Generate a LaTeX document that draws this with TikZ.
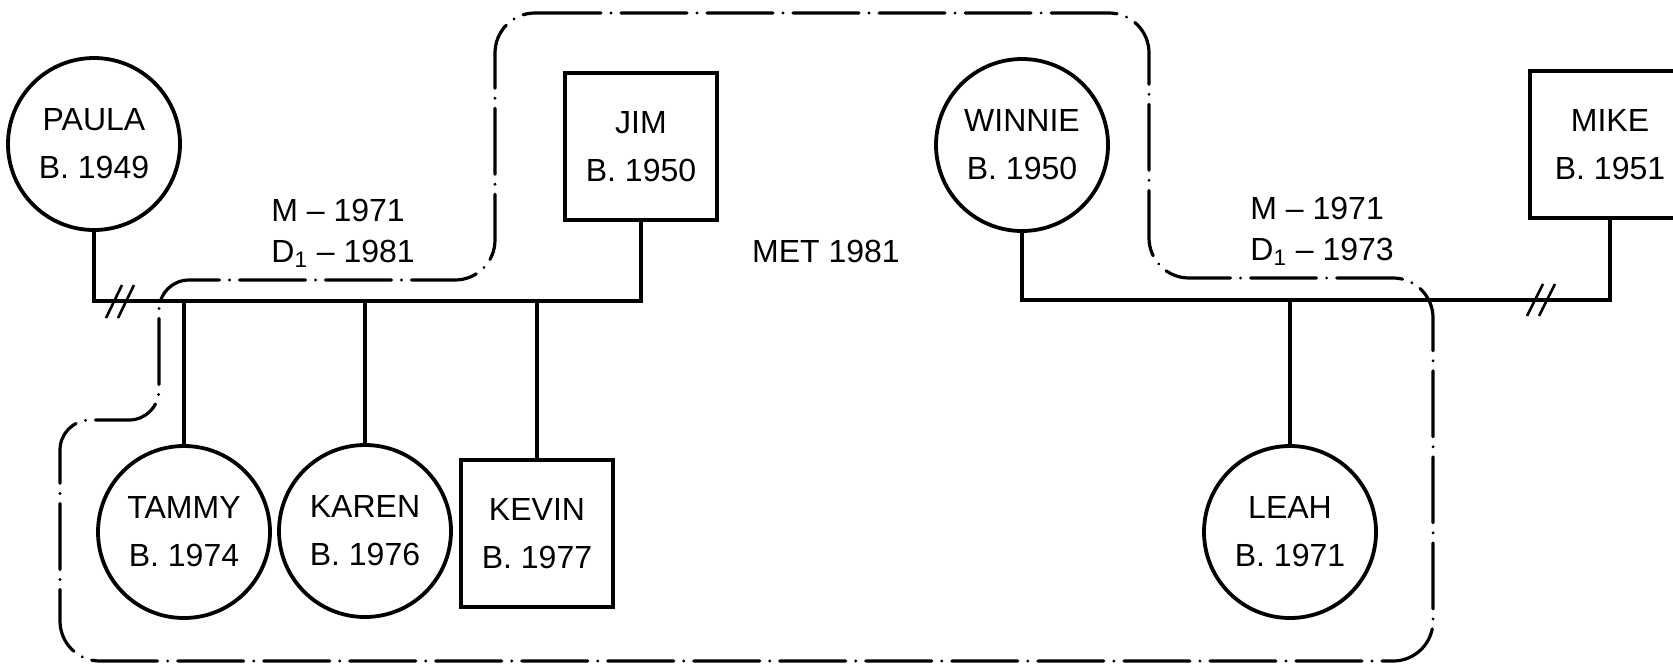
\documentclass[tikz,border=0pt]{standalone}
\usepackage{fontspec}
\setmainfont{Liberation Sans}
\begin{document}
\begin{tikzpicture}[x=0.5pt,y=-0.5pt]
\tikzset{
 person/.style={draw, line width=1.9pt, font=\fontsize{16}{24}\selectfont, align=center, inner sep=0pt},
 female/.style={person, circle, minimum size=86pt},
 male/.style={person, rectangle, minimum width=76pt, minimum height=73.5pt},
 tie/.style={line width=1.6pt},
 marriage/.style={line width=1.9pt},
 bound/.style={line width=1.6pt, line cap=round, dash pattern=on 33pt off 5pt on 0.01pt off 5pt},
 lbl/.style={font=\fontsize{16}{20.5}\selectfont, align=left, inner sep=0pt},
 cut/.style={line width=1.3pt}
}
\useasboundingbox (0,0) rectangle (1673,665);
% people
\node[female] (paula) at (94,144) {PAULA\\B. 1949};
\node[male] (jim) at (641,146.5) {JIM\\B. 1950};
\node[female] (winnie) at (1022,145) {WINNIE\\B. 1950};
\begin{scope}
\clip (0,0) rectangle (1673,665);
\node[male, minimum width=80pt] (mike) at (1610,144.5) {MIKE\\B. 1951};
\end{scope}
\node[female] (tammy) at (184,532) {TAMMY\\B. 1974};
\node[female] (karen) at (365,531) {KAREN\\B. 1976};
\node[male] (kevin) at (537,533.5) {KEVIN\\B. 1977};
\node[female] (leah) at (1290,532) {LEAH\\B. 1971};
% marriage lines
\coordinate (m1) at (0,301);
\coordinate (m2) at (0,300);
\draw[marriage] (paula.south) -- (paula.south |- m1) -- (jim.south |- m1) -- (jim.south);
\draw[marriage] (winnie.south) -- (winnie.south |- m2) -- (mike.south |- m2) -- (mike.south);
% children
\draw[tie] (tammy.north |- m1) -- (tammy.north);
\draw[tie] (karen.north |- m1) -- (karen.north);
\draw[tie] (kevin.north |- m1) -- (kevin.north);
\draw[tie] (leah.north |- m2) -- (leah.north);
% divorce marks
\draw[cut] (106,318) -- (122,285);
\draw[cut] (118,318) -- (134,285);
\draw[cut] (1527,316) -- (1543,284);
\draw[cut] (1539,316) -- (1555,284);
% labels
\node[lbl, anchor=west] (lblA) at (271,233) {M – 1971\\D\textsubscript{1} – 1981};
\node[lbl, anchor=west] (lblB) at (1250,231) {M – 1971\\D\textsubscript{1} – 1973};
\node[lbl] (met) at (826,251) {MET 1981};
% household boundary
\draw[bound, rounded corners=20pt] (495,13) -- (1149,13) -- (1149,278) -- (1433,278) -- (1433,661) -- (60,661) [rounded corners=15pt] -- (60,420) -- (159,420) -- (159,280) [rounded corners=20pt] -- (495,280) -- cycle;
\end{tikzpicture}
\end{document}
